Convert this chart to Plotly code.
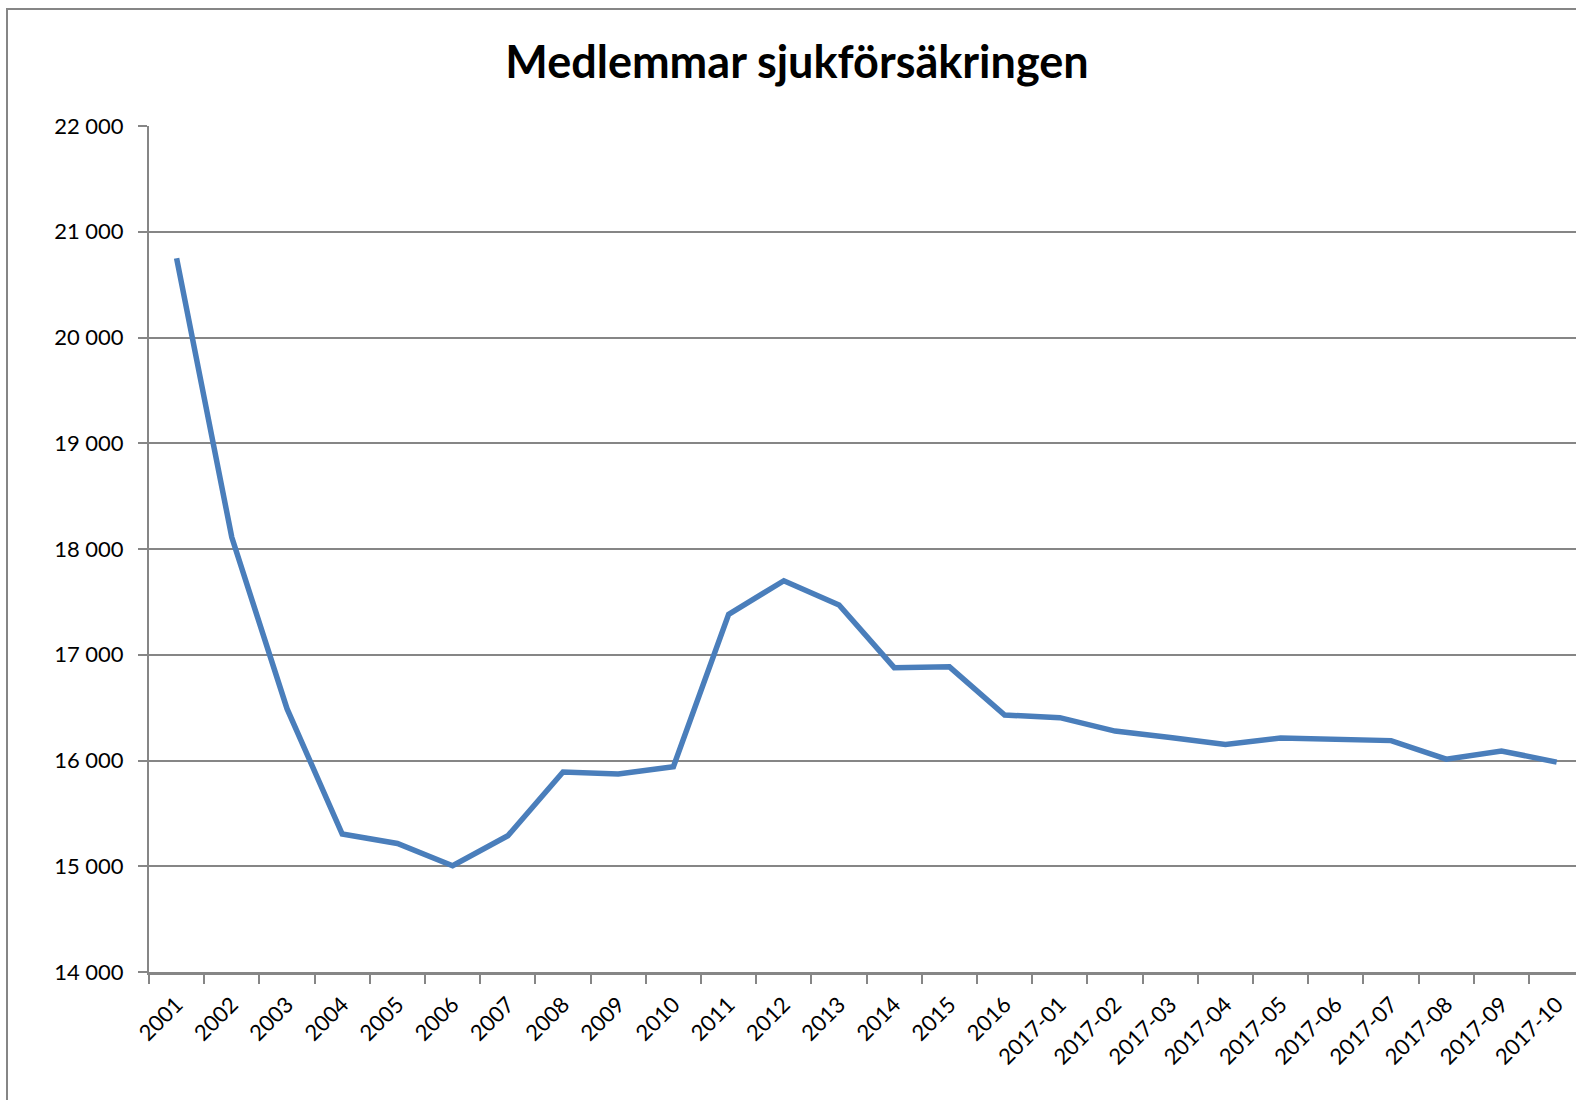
import plotly.graph_objects as go

categories = ["2001", "2002", "2003", "2004", "2005", "2006", "2007", "2008", "2009", "2010",
              "2011", "2012", "2013", "2014", "2015", "2016",
              "2017-01", "2017-02", "2017-03", "2017-04", "2017-05", "2017-06",
              "2017-07", "2017-08", "2017-09", "2017-10"]
members = [20750, 18110, 16490, 15305, 15215, 15005, 15288, 15891, 15872, 15942,
           17382, 17700, 17470, 16878, 16886, 16430,
           16405, 16278, 16218, 16152, 16212, 16198, 16188, 16012, 16090, 15985]
y_tick_vals = [14000, 15000, 16000, 17000, 18000, 19000, 20000, 21000, 22000]
y_tick_labels = ["14 000", "15 000", "16 000", "17 000", "18 000", "19 000", "20 000", "21 000", "22 000"]
title_text = "Medlemmar sjukförsäkringen"

GRID = "#868686"
FONT = "Lato"

fig = go.Figure()
fig.add_trace(go.Scatter(
    x=categories, y=members, mode="lines",
    line=dict(color="#4a7ebb", width=5.5, shape="linear"),
    showlegend=False, cliponaxis=False,
))

W, H = 1576, 1100
L, T, B = 149, 126, 128
fig.update_layout(
    width=W, height=H,
    margin=dict(l=L, r=0, t=T, b=B, pad=0, autoexpand=False),
    paper_bgcolor="white", plot_bgcolor="white",
    title=dict(text=title_text, x=797 / W, xanchor="center", y=1 - 62 / H, yanchor="middle",
               xref="container", yref="container",
               font=dict(family=FONT, size=45, color="black", weight="bold")),
    font=dict(family=FONT, size=22, color="black"),
)
fig.update_xaxes(
    type="category", range=[-0.5, 25.35],
    showgrid=False, showline=True, linecolor=GRID, linewidth=3,
    ticks="outside", tickson="boundaries", ticklen=9, tickwidth=2, tickcolor=GRID,
    tickangle=-45, tickfont=dict(family=FONT, size=22, color="black"),
    ticklabelstandoff=8,
    zeroline=False, fixedrange=True, automargin=False,
)
fig.update_yaxes(
    range=[14000, 22000], tickvals=y_tick_vals, ticktext=y_tick_labels,
    showgrid=True, gridcolor=GRID, gridwidth=2,
    showline=True, linecolor=GRID, linewidth=2,
    ticks="outside", ticklen=9, tickwidth=2, tickcolor=GRID,
    tickfont=dict(family=FONT, size=22, color="black"),
    ticklabelstandoff=10,
    zeroline=False, fixedrange=True, automargin=False,
)

# outer chart-area border (extends past the right and bottom edges like the reference)
plot_w = W - L
plot_h = H - T - B
fig.add_shape(type="rect", xref="paper", yref="paper",
              x0=(7 - L) / plot_w, x1=(W + 20 - L) / plot_w,
              y0=-(H + 20 - (H - B)) / plot_h, y1=((H - B) - 9) / plot_h,
              line=dict(color=GRID, width=2), fillcolor="rgba(0,0,0,0)", layer="below")

fig.write_html("out.html", config={"displayModeBar": False},
               post_script="document.body.style.margin='0';document.body.style.overflow='hidden';")
